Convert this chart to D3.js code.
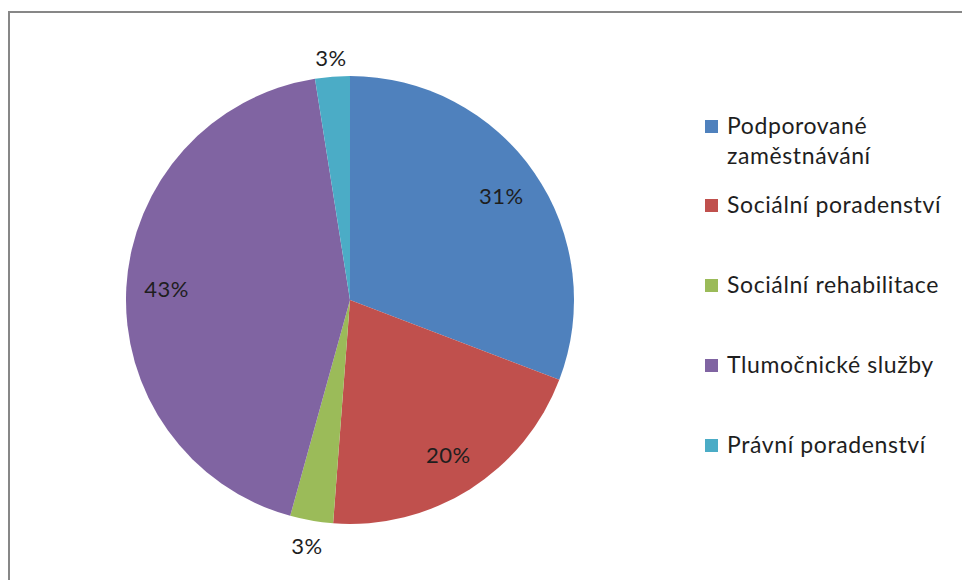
<!DOCTYPE html>
<html>
<head>
<meta charset="utf-8">
<script src="https://cdn.jsdelivr.net/npm/d3@7"></script>
<style>
  body { margin: 0; background: #fff; }
  svg { display: block; font-family: Lato, "Open Sans", sans-serif; }
</style>
</head>
<body>
<div id="chart"></div>
<script>
// categories and shares (percent)
const categories = ['Podporované zaměstnávání', 'Sociální poradenství', 'Sociální rehabilitace', 'Tlumočnické služby', 'Právní poradenství'];
const legendLines = [['Podporované', 'zaměstnávání'], ['Sociální poradenství'], ['Sociální rehabilitace'], ['Tlumočnické služby'], ['Právní poradenství']];
const values = [30.8, 20.4, 3.1, 43.2, 2.5];
const colors = ['#4F81BD', '#C0504D', '#9BBB59', '#8064A2', '#4BACC6'];

const width = 962;
const height = 580;
const cx = 350;
const cy = 300;
const radius = 224;

const svg = d3.select('#chart').append('svg')
  .attr('width', width)
  .attr('height', height);

// chart area frame (runs off the right and bottom edge)
svg.append('rect')
  .attr('x', 9).attr('y', 12)
  .attr('width', 980).attr('height', 600)
  .attr('fill', 'none')
  .attr('stroke', '#878787')
  .attr('stroke-width', 2);

const pie = d3.pie().sort(null).value(d => d);
const arcs = pie(values);
const arc = d3.arc().innerRadius(0).outerRadius(radius);

const g = svg.append('g').attr('transform', `translate(${cx},${cy})`);

g.selectAll('path.slice')
  .data(arcs)
  .join('path')
  .attr('class', 'slice')
  .attr('d', arc)
  .attr('fill', (d, i) => colors[i]);

// data labels: inside for big slices, outside for the small ones
const total = d3.sum(values);
g.selectAll('text.lbl')
  .data(arcs)
  .join('text')
  .attr('class', 'lbl')
  .attr('transform', (d) => {
    const a = (d.startAngle + d.endAngle) / 2;
    const share = d.data / total;
    const r = share < 0.05 ? radius + 22 - 4 * Math.cos(a) : radius * 0.82;
    return `translate(${r * Math.sin(a)},${-r * Math.cos(a)})`;
  })
  .attr('text-anchor', 'middle')
  .attr('dy', '0.35em')
  .attr('font-size', 22)
  .attr('letter-spacing', 0.5)
  .attr('fill', '#1e1e1e')
  .text(d => `${Math.round(d.data / total * 100)}%`);

// legend
const legendY = [126, 205, 285, 365, 445];
const legend = svg.append('g');
const item = legend.selectAll('g')
  .data(categories)
  .join('g')
  .attr('transform', (d, i) => `translate(705,${legendY[i]})`);

item.append('rect')
  .attr('x', 0).attr('y', -6)
  .attr('width', 13).attr('height', 13)
  .attr('fill', (d, i) => colors[i]);

item.append('text')
  .attr('x', 22)
  .attr('font-size', 23)
  .attr('letter-spacing', 0.6)
  .attr('fill', '#1e1e1e')
  .selectAll('tspan')
  .data((d, i) => legendLines[i])
  .join('tspan')
  .attr('x', 22)
  .attr('dy', (d, j) => (j === 0 ? '0.35em' : '1.3em'))
  .text(d => d);
</script>
</body>
</html>
